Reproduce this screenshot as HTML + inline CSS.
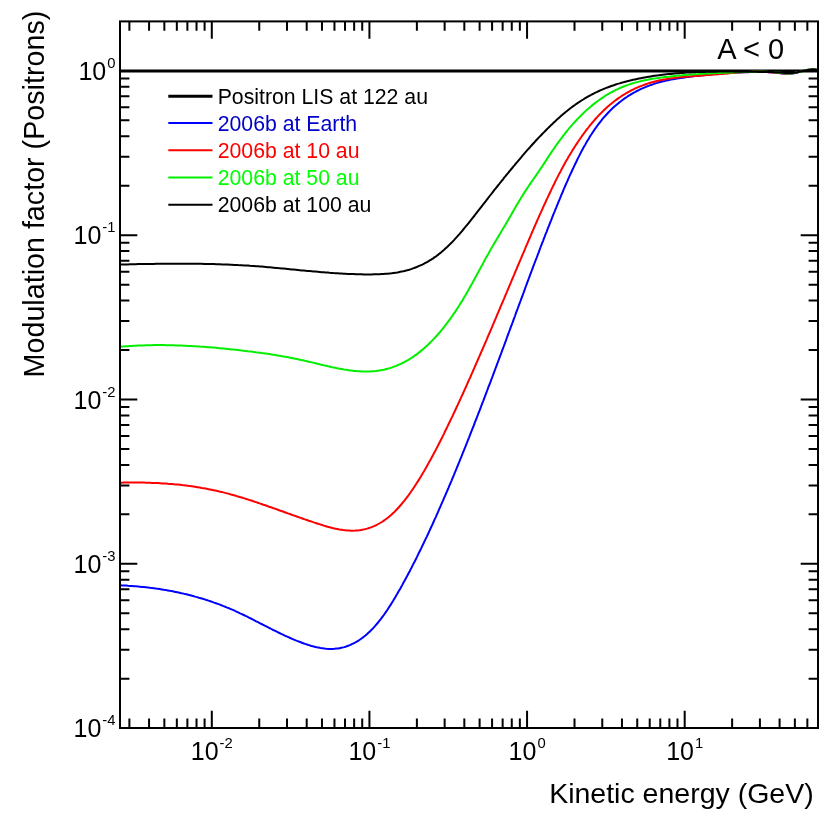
<!DOCTYPE html>
<html><head><meta charset="utf-8"><title>Modulation factor (Positrons)</title>
<style>
html,body{margin:0;padding:0;background:#fff;}
body{width:830px;height:830px;overflow:hidden;font-family:"Liberation Sans",sans-serif;}
svg{display:block;font-family:"Liberation Sans",sans-serif;will-change:transform;}
</style></head><body>
<svg width="830" height="830" viewBox="0 0 830 830">
<rect width="830" height="830" fill="#fff"/>
<g fill="none" stroke-linejoin="round" stroke-linecap="butt">
<path d="M120.0 70.9 H818.0" stroke="#000" stroke-width="3"/>
<path d="M120.0 585.3 L122.0 585.4 L124.0 585.5 L126.0 585.6 L128.0 585.8 L130.0 585.9 L132.0 586.0 L134.0 586.2 L136.0 586.3 L138.0 586.5 L140.0 586.7 L141.9 586.9 L143.9 587.1 L145.9 587.3 L147.9 587.5 L149.9 587.8 L151.9 588.0 L153.9 588.3 L155.8 588.6 L157.8 588.8 L159.8 589.1 L161.8 589.4 L163.8 589.8 L165.7 590.1 L167.7 590.4 L169.7 590.8 L171.6 591.1 L173.6 591.5 L175.6 591.9 L177.5 592.3 L179.5 592.7 L181.4 593.2 L183.4 593.6 L185.3 594.1 L187.3 594.5 L189.2 595.0 L191.2 595.5 L193.1 596.0 L195.0 596.6 L197.0 597.1 L198.9 597.7 L200.8 598.2 L202.7 598.8 L204.6 599.4 L206.5 600.0 L208.5 600.6 L210.4 601.2 L212.2 601.9 L214.1 602.6 L216.0 603.2 L217.9 603.9 L219.8 604.6 L221.6 605.3 L223.5 606.1 L225.4 606.8 L227.2 607.6 L229.1 608.3 L230.9 609.1 L232.8 609.9 L234.6 610.7 L236.4 611.6 L238.2 612.4 L240.0 613.3 L241.9 614.1 L243.7 615.0 L245.5 615.9 L247.3 616.7 L249.0 617.6 L250.8 618.5 L252.6 619.4 L254.4 620.3 L256.2 621.3 L258.0 622.2 L259.7 623.1 L261.5 624.0 L263.3 624.9 L265.1 625.8 L266.9 626.7 L268.6 627.6 L270.4 628.5 L272.2 629.5 L274.0 630.3 L275.8 631.2 L277.6 632.1 L279.4 633.0 L281.2 633.9 L283.0 634.7 L284.8 635.6 L286.6 636.4 L288.4 637.2 L290.2 638.0 L292.1 638.8 L293.9 639.6 L295.8 640.4 L297.6 641.1 L299.5 641.8 L301.3 642.5 L303.2 643.2 L305.1 643.9 L307.0 644.5 L308.9 645.1 L310.8 645.7 L312.7 646.2 L314.7 646.7 L316.6 647.2 L318.5 647.6 L320.5 648.0 L322.5 648.3 L324.5 648.6 L326.4 648.8 L328.4 648.9 L330.4 648.9 L332.4 648.9 L334.4 648.8 L336.4 648.6 L338.4 648.4 L340.4 648.0 L342.3 647.6 L344.3 647.1 L346.2 646.5 L348.1 645.8 L350.0 645.1 L351.8 644.2 L353.6 643.3 L355.4 642.4 L357.2 641.4 L358.9 640.3 L360.5 639.2 L362.2 638.0 L363.8 636.7 L365.4 635.5 L366.9 634.2 L368.4 632.8 L369.9 631.4 L371.3 630.0 L372.7 628.6 L374.1 627.1 L375.4 625.6 L376.8 624.0 L378.1 622.5 L379.3 620.9 L380.6 619.3 L381.8 617.7 L383.0 616.1 L384.2 614.5 L385.3 612.8 L386.5 611.1 L387.6 609.5 L388.7 607.8 L389.8 606.1 L390.9 604.4 L391.9 602.7 L393.0 601.0 L394.0 599.3 L395.1 597.6 L396.1 595.8 L397.1 594.1 L398.1 592.3 L399.1 590.6 L400.1 588.9 L401.1 587.1 L402.1 585.4 L403.0 583.6 L404.0 581.8 L405.0 580.1 L405.9 578.3 L406.9 576.5 L407.8 574.8 L408.7 573.0 L409.7 571.2 L410.6 569.4 L411.5 567.7 L412.4 565.9 L413.3 564.1 L414.3 562.3 L415.2 560.5 L416.1 558.7 L417.0 556.9 L417.8 555.1 L418.7 553.3 L419.6 551.5 L420.5 549.7 L421.4 547.9 L422.2 546.1 L423.1 544.3 L424.0 542.5 L424.8 540.7 L425.7 538.9 L426.6 537.1 L427.4 535.3 L428.3 533.5 L429.1 531.7 L429.9 529.8 L430.8 528.0 L431.6 526.2 L432.5 524.4 L433.3 522.5 L434.1 520.7 L434.9 518.9 L435.8 517.1 L436.6 515.2 L437.4 513.4 L438.2 511.6 L439.0 509.7 L439.8 507.9 L440.6 506.1 L441.4 504.2 L442.2 502.4 L443.0 500.6 L443.8 498.7 L444.6 496.9 L445.4 495.1 L446.2 493.2 L447.0 491.4 L447.8 489.5 L448.6 487.7 L449.3 485.8 L450.1 484.0 L450.9 482.1 L451.7 480.3 L452.4 478.5 L453.2 476.6 L454.0 474.8 L454.7 472.9 L455.5 471.1 L456.3 469.2 L457.0 467.4 L457.8 465.5 L458.5 463.6 L459.3 461.8 L460.0 459.9 L460.8 458.1 L461.6 456.2 L462.3 454.4 L463.0 452.5 L463.8 450.7 L464.5 448.8 L465.3 446.9 L466.0 445.1 L466.8 443.2 L467.5 441.4 L468.2 439.5 L469.0 437.6 L469.7 435.8 L470.4 433.9 L471.2 432.0 L471.9 430.2 L472.6 428.3 L473.4 426.5 L474.1 424.6 L474.8 422.7 L475.5 420.9 L476.3 419.0 L477.0 417.1 L477.7 415.3 L478.4 413.4 L479.2 411.5 L479.9 409.7 L480.6 407.8 L481.3 405.9 L482.0 404.1 L482.7 402.2 L483.5 400.3 L484.2 398.4 L484.9 396.6 L485.6 394.7 L486.3 392.8 L487.0 391.0 L487.7 389.1 L488.4 387.2 L489.1 385.4 L489.9 383.5 L490.6 381.6 L491.3 379.7 L492.0 377.9 L492.7 376.0 L493.4 374.1 L494.1 372.2 L494.8 370.4 L495.5 368.5 L496.2 366.6 L496.9 364.7 L497.6 362.9 L498.3 361.0 L499.0 359.1 L499.7 357.2 L500.4 355.4 L501.1 353.5 L501.8 351.6 L502.5 349.7 L503.2 347.9 L503.9 346.0 L504.6 344.1 L505.3 342.2 L506.0 340.4 L506.6 338.5 L507.3 336.6 L508.0 334.7 L508.7 332.9 L509.4 331.0 L510.1 329.1 L510.8 327.2 L511.5 325.4 L512.2 323.5 L512.9 321.6 L513.6 319.7 L514.3 317.9 L515.0 316.0 L515.6 314.1 L516.3 312.2 L517.0 310.3 L517.7 308.5 L518.4 306.6 L519.1 304.7 L519.8 302.8 L520.5 301.0 L521.2 299.1 L521.9 297.2 L522.6 295.3 L523.3 293.5 L524.0 291.6 L524.7 289.7 L525.3 287.8 L526.0 286.0 L526.7 284.1 L527.4 282.2 L528.1 280.3 L528.8 278.5 L529.5 276.6 L530.2 274.7 L530.9 272.8 L531.6 271.0 L532.3 269.1 L533.0 267.2 L533.7 265.4 L534.4 263.5 L535.1 261.6 L535.8 259.8 L536.6 257.9 L537.3 256.0 L538.0 254.1 L538.7 252.3 L539.4 250.4 L540.1 248.5 L540.8 246.7 L541.5 244.8 L542.2 242.9 L543.0 241.1 L543.7 239.2 L544.4 237.4 L545.1 235.5 L545.8 233.6 L546.6 231.8 L547.3 229.9 L548.0 228.0 L548.8 226.2 L549.5 224.3 L550.2 222.5 L551.0 220.6 L551.7 218.8 L552.4 216.9 L553.2 215.0 L553.9 213.2 L554.7 211.3 L555.4 209.5 L556.2 207.6 L556.9 205.8 L557.7 203.9 L558.4 202.1 L559.2 200.3 L560.0 198.4 L560.7 196.6 L561.5 194.7 L562.3 192.9 L563.1 191.0 L563.8 189.2 L564.6 187.4 L565.4 185.5 L566.2 183.7 L567.0 181.9 L567.8 180.1 L568.6 178.2 L569.4 176.4 L570.2 174.6 L571.1 172.8 L571.9 171.0 L572.7 169.2 L573.6 167.4 L574.4 165.6 L575.3 163.8 L576.2 162.0 L577.0 160.2 L577.9 158.4 L578.8 156.6 L579.7 154.9 L580.6 153.1 L581.5 151.3 L582.5 149.6 L583.4 147.8 L584.4 146.1 L585.4 144.4 L586.3 142.6 L587.3 140.9 L588.4 139.2 L589.4 137.5 L590.4 135.8 L591.5 134.2 L592.6 132.5 L593.7 130.9 L594.8 129.2 L596.0 127.6 L597.1 126.0 L598.3 124.4 L599.5 122.8 L600.7 121.3 L602.0 119.7 L603.2 118.2 L604.5 116.7 L605.9 115.2 L607.2 113.8 L608.6 112.3 L609.9 110.9 L611.3 109.5 L612.8 108.1 L614.2 106.8 L615.7 105.5 L617.2 104.2 L618.8 102.9 L620.3 101.7 L621.9 100.5 L623.5 99.3 L625.1 98.1 L626.8 97.0 L628.4 95.9 L630.1 94.9 L631.8 93.8 L633.5 92.8 L635.3 91.9 L637.0 91.0 L638.8 90.1 L640.6 89.2 L642.4 88.4 L644.2 87.6 L646.1 86.8 L647.9 86.1 L649.8 85.4 L651.7 84.7 L653.5 84.1 L655.4 83.4 L657.4 82.9 L659.3 82.3 L661.2 81.8 L663.1 81.3 L665.1 80.9 L667.0 80.4 L669.0 80.0 L671.0 79.6 L672.9 79.3 L674.9 78.9 L676.9 78.6 L678.8 78.3 L680.8 78.0 L682.8 77.7 L684.8 77.4 L686.7 77.1 L688.7 76.9 L690.7 76.6 L692.7 76.4 L694.7 76.1 L696.7 75.9 L698.7 75.7 L700.6 75.5 L702.6 75.2 L704.6 75.0 L706.6 74.8 L708.6 74.6 L710.6 74.4 L712.6 74.3 L714.6 74.1 L716.6 73.9 L718.6 73.7 L720.5 73.6 L722.5 73.4 L724.5 73.3 L726.5 73.2 L728.5 73.0 L730.5 72.9 L732.5 72.8 L734.5 72.7 L736.5 72.6 L738.5 72.5 L740.5 72.4 L742.5 72.3 L744.5 72.3 L746.5 72.2 L748.5 72.2 L750.5 72.1 L752.5 72.1 L754.5 72.1 L756.5 72.1 L758.5 72.1 L760.5 72.1 L762.5 72.1 L764.5 72.1 L766.5 72.1 L768.5 72.2 L770.5 72.3 L772.5 72.4 L774.5 72.5 L776.5 72.7 L778.5 72.9 L780.5 73.2 L782.4 73.5 L784.4 73.7 L786.4 73.9 L788.4 73.9 L790.4 73.8 L792.4 73.6 L794.4 73.2 L796.3 72.8 L798.3 72.3 L800.2 71.8 L802.1 71.2 L804.1 70.7 L806.0 70.2 L807.9 69.8 L809.9 69.4 L811.9 69.3 L813.9 69.3 L815.9 69.6 L817.8 70.2 L818.0 70.2" stroke="#0000ff" stroke-width="2"/>
<path d="M120.0 482.7 L122.0 482.7 L124.0 482.6 L126.0 482.6 L128.0 482.6 L130.0 482.6 L132.0 482.5 L134.0 482.5 L136.0 482.5 L138.0 482.6 L140.0 482.6 L142.0 482.6 L144.0 482.6 L146.0 482.7 L148.0 482.7 L150.0 482.8 L152.0 482.9 L154.0 482.9 L156.0 483.0 L158.0 483.1 L160.0 483.2 L162.0 483.4 L164.0 483.5 L166.0 483.6 L168.0 483.8 L170.0 483.9 L172.0 484.1 L174.0 484.3 L175.9 484.4 L177.9 484.6 L179.9 484.8 L181.9 485.1 L183.9 485.3 L185.9 485.5 L187.9 485.8 L189.9 486.0 L191.8 486.3 L193.8 486.6 L195.8 486.9 L197.8 487.2 L199.7 487.5 L201.7 487.9 L203.7 488.2 L205.7 488.6 L207.6 489.0 L209.6 489.4 L211.5 489.8 L213.5 490.2 L215.5 490.6 L217.4 491.0 L219.4 491.5 L221.3 491.9 L223.3 492.4 L225.2 492.9 L227.1 493.4 L229.1 493.9 L231.0 494.5 L232.9 495.0 L234.9 495.5 L236.8 496.1 L238.7 496.7 L240.6 497.2 L242.5 497.8 L244.4 498.4 L246.3 499.0 L248.3 499.6 L250.2 500.2 L252.1 500.8 L254.0 501.5 L255.9 502.1 L257.8 502.7 L259.7 503.4 L261.5 504.0 L263.4 504.7 L265.3 505.3 L267.2 506.0 L269.1 506.7 L271.0 507.3 L272.9 508.0 L274.8 508.6 L276.7 509.3 L278.5 510.0 L280.4 510.7 L282.3 511.3 L284.2 512.0 L286.1 512.7 L288.0 513.4 L289.8 514.0 L291.7 514.7 L293.6 515.4 L295.5 516.0 L297.4 516.7 L299.3 517.4 L301.1 518.0 L303.0 518.7 L304.9 519.4 L306.8 520.0 L308.7 520.7 L310.6 521.3 L312.5 521.9 L314.4 522.6 L316.3 523.2 L318.2 523.8 L320.1 524.4 L322.0 525.0 L323.9 525.6 L325.8 526.2 L327.7 526.8 L329.7 527.3 L331.6 527.8 L333.5 528.3 L335.5 528.7 L337.4 529.1 L339.4 529.5 L341.4 529.8 L343.3 530.1 L345.3 530.3 L347.3 530.5 L349.3 530.6 L351.3 530.7 L353.3 530.7 L355.3 530.6 L357.3 530.4 L359.3 530.2 L361.3 529.9 L363.2 529.6 L365.2 529.1 L367.1 528.6 L369.1 528.0 L371.0 527.4 L372.8 526.6 L374.7 525.8 L376.5 525.0 L378.3 524.0 L380.1 523.0 L381.8 522.0 L383.5 520.9 L385.1 519.7 L386.8 518.5 L388.4 517.3 L389.9 516.0 L391.4 514.7 L392.9 513.3 L394.4 511.9 L395.8 510.5 L397.2 509.0 L398.6 507.5 L399.9 506.0 L401.2 504.5 L402.5 502.9 L403.8 501.4 L405.0 499.8 L406.3 498.2 L407.5 496.6 L408.7 495.0 L409.9 493.3 L411.0 491.7 L412.2 490.0 L413.3 488.4 L414.4 486.7 L415.5 485.0 L416.6 483.3 L417.7 481.6 L418.8 479.9 L419.8 478.2 L420.9 476.5 L421.9 474.8 L422.9 473.0 L424.0 471.3 L425.0 469.6 L426.0 467.8 L427.0 466.1 L427.9 464.3 L428.9 462.6 L429.9 460.8 L430.9 459.1 L431.8 457.3 L432.8 455.5 L433.7 453.8 L434.6 452.0 L435.6 450.2 L436.5 448.4 L437.4 446.7 L438.3 444.9 L439.3 443.1 L440.2 441.3 L441.1 439.5 L442.0 437.7 L442.9 435.9 L443.8 434.1 L444.6 432.3 L445.5 430.5 L446.4 428.7 L447.3 426.9 L448.1 425.1 L449.0 423.3 L449.9 421.5 L450.7 419.7 L451.6 417.9 L452.5 416.1 L453.3 414.3 L454.2 412.5 L455.0 410.7 L455.9 408.8 L456.7 407.0 L457.6 405.2 L458.4 403.4 L459.2 401.6 L460.1 399.8 L460.9 397.9 L461.7 396.1 L462.6 394.3 L463.4 392.5 L464.2 390.6 L465.1 388.8 L465.9 387.0 L466.7 385.2 L467.5 383.3 L468.3 381.5 L469.1 379.7 L470.0 377.9 L470.8 376.0 L471.6 374.2 L472.4 372.4 L473.2 370.5 L474.0 368.7 L474.8 366.9 L475.6 365.0 L476.4 363.2 L477.2 361.4 L478.0 359.5 L478.8 357.7 L479.6 355.9 L480.4 354.0 L481.2 352.2 L482.0 350.4 L482.8 348.5 L483.6 346.7 L484.4 344.8 L485.2 343.0 L486.0 341.2 L486.8 339.3 L487.5 337.5 L488.3 335.7 L489.1 333.8 L489.9 332.0 L490.7 330.1 L491.5 328.3 L492.3 326.4 L493.0 324.6 L493.8 322.8 L494.6 320.9 L495.4 319.1 L496.2 317.2 L496.9 315.4 L497.7 313.6 L498.5 311.7 L499.3 309.9 L500.1 308.0 L500.8 306.2 L501.6 304.3 L502.4 302.5 L503.2 300.7 L504.0 298.8 L504.7 297.0 L505.5 295.1 L506.3 293.3 L507.1 291.4 L507.8 289.6 L508.6 287.8 L509.4 285.9 L510.2 284.1 L511.0 282.2 L511.7 280.4 L512.5 278.5 L513.3 276.7 L514.1 274.9 L514.8 273.0 L515.6 271.2 L516.4 269.3 L517.2 267.5 L517.9 265.6 L518.7 263.8 L519.5 262.0 L520.3 260.1 L521.1 258.3 L521.8 256.4 L522.6 254.6 L523.4 252.8 L524.2 250.9 L525.0 249.1 L525.7 247.2 L526.5 245.4 L527.3 243.6 L528.1 241.7 L528.9 239.9 L529.7 238.0 L530.5 236.2 L531.2 234.4 L532.0 232.5 L532.8 230.7 L533.6 228.9 L534.4 227.0 L535.2 225.2 L536.0 223.4 L536.8 221.5 L537.6 219.7 L538.4 217.9 L539.2 216.1 L540.0 214.2 L540.9 212.4 L541.7 210.6 L542.5 208.8 L543.3 206.9 L544.1 205.1 L545.0 203.3 L545.8 201.5 L546.6 199.7 L547.5 197.9 L548.3 196.1 L549.2 194.3 L550.0 192.5 L550.9 190.7 L551.7 188.9 L552.6 187.1 L553.5 185.3 L554.4 183.5 L555.2 181.7 L556.1 179.9 L557.0 178.1 L557.9 176.4 L558.8 174.6 L559.8 172.8 L560.7 171.1 L561.6 169.3 L562.6 167.6 L563.5 165.8 L564.5 164.1 L565.4 162.3 L566.4 160.6 L567.4 158.9 L568.4 157.1 L569.4 155.4 L570.4 153.7 L571.5 152.0 L572.5 150.3 L573.6 148.6 L574.6 147.0 L575.7 145.3 L576.8 143.6 L577.9 142.0 L579.0 140.3 L580.1 138.7 L581.3 137.0 L582.4 135.4 L583.6 133.8 L584.8 132.2 L585.9 130.6 L587.2 129.0 L588.4 127.5 L589.6 125.9 L590.9 124.4 L592.1 122.8 L593.4 121.3 L594.7 119.8 L596.1 118.3 L597.4 116.9 L598.7 115.4 L600.1 114.0 L601.5 112.6 L602.9 111.2 L604.4 109.8 L605.8 108.5 L607.3 107.1 L608.8 105.8 L610.3 104.5 L611.8 103.2 L613.4 102.0 L614.9 100.8 L616.5 99.6 L618.1 98.4 L619.8 97.3 L621.4 96.2 L623.1 95.1 L624.8 94.1 L626.5 93.0 L628.2 92.1 L630.0 91.1 L631.7 90.2 L633.5 89.3 L635.3 88.4 L637.1 87.6 L639.0 86.8 L640.8 86.1 L642.7 85.4 L644.5 84.7 L646.4 84.0 L648.3 83.4 L650.2 82.8 L652.1 82.2 L654.1 81.7 L656.0 81.2 L657.9 80.8 L659.9 80.3 L661.8 79.9 L663.8 79.5 L665.8 79.2 L667.7 78.8 L669.7 78.5 L671.7 78.2 L673.7 78.0 L675.6 77.7 L677.6 77.5 L679.6 77.3 L681.6 77.1 L683.6 76.9 L685.6 76.7 L687.6 76.6 L689.6 76.4 L691.6 76.3 L693.6 76.1 L695.6 76.0 L697.6 75.8 L699.5 75.7 L701.5 75.6 L703.5 75.4 L705.5 75.3 L707.5 75.1 L709.5 75.0 L711.5 74.8 L713.5 74.6 L715.5 74.5 L717.5 74.3 L719.5 74.1 L721.5 73.9 L723.5 73.7 L725.5 73.5 L727.5 73.4 L729.4 73.2 L731.4 73.0 L733.4 72.9 L735.4 72.7 L737.4 72.5 L739.4 72.4 L741.4 72.3 L743.4 72.2 L745.4 72.0 L747.4 72.0 L749.4 71.9 L751.4 71.8 L753.4 71.8 L755.4 71.8 L757.4 71.8 L759.4 71.8 L761.4 71.8 L763.4 71.9 L765.4 72.0 L767.4 72.1 L769.4 72.2 L771.4 72.4 L773.4 72.5 L775.4 72.7 L777.4 72.9 L779.4 73.1 L781.3 73.3 L783.3 73.5 L785.3 73.6 L787.3 73.7 L789.3 73.6 L791.3 73.4 L793.3 73.1 L795.3 72.8 L797.2 72.4 L799.2 71.9 L801.1 71.4 L803.1 71.0 L805.0 70.5 L807.0 70.1 L808.9 69.7 L810.9 69.5 L812.9 69.4 L814.9 69.5 L816.9 69.8 L818.0 70.2" stroke="#ff0000" stroke-width="2"/>
<path d="M120.0 346.8 L122.0 346.6 L124.0 346.5 L126.0 346.3 L128.0 346.2 L130.0 346.0 L132.0 345.9 L134.0 345.8 L136.0 345.7 L138.0 345.6 L140.0 345.5 L142.0 345.4 L143.9 345.4 L145.9 345.3 L147.9 345.3 L149.9 345.2 L151.9 345.2 L153.9 345.1 L155.9 345.1 L157.9 345.1 L159.9 345.1 L161.9 345.1 L163.9 345.1 L165.9 345.2 L167.9 345.2 L169.9 345.2 L171.9 345.3 L173.9 345.3 L175.9 345.4 L177.9 345.4 L179.9 345.5 L181.9 345.6 L183.9 345.7 L185.9 345.8 L187.9 345.9 L189.9 346.0 L191.9 346.1 L193.9 346.2 L195.9 346.3 L197.9 346.4 L199.9 346.6 L201.9 346.7 L203.9 346.8 L205.9 347.0 L207.9 347.2 L209.9 347.3 L211.9 347.5 L213.9 347.6 L215.9 347.8 L217.9 348.0 L219.9 348.2 L221.8 348.4 L223.8 348.6 L225.8 348.8 L227.8 349.0 L229.8 349.2 L231.8 349.4 L233.8 349.6 L235.8 349.8 L237.8 350.0 L239.7 350.2 L241.7 350.4 L243.7 350.7 L245.7 350.9 L247.7 351.2 L249.7 351.4 L251.7 351.6 L253.6 351.9 L255.6 352.2 L257.6 352.4 L259.6 352.7 L261.6 353.0 L263.6 353.2 L265.5 353.5 L267.5 353.8 L269.5 354.1 L271.5 354.4 L273.4 354.7 L275.4 355.1 L277.4 355.4 L279.4 355.7 L281.3 356.1 L283.3 356.4 L285.3 356.8 L287.2 357.1 L289.2 357.5 L291.2 357.9 L293.1 358.3 L295.1 358.7 L297.1 359.1 L299.0 359.5 L301.0 359.9 L302.9 360.3 L304.9 360.8 L306.8 361.2 L308.8 361.7 L310.7 362.1 L312.7 362.6 L314.6 363.0 L316.6 363.5 L318.5 364.0 L320.5 364.5 L322.4 364.9 L324.3 365.4 L326.3 365.8 L328.2 366.3 L330.2 366.7 L332.1 367.2 L334.1 367.6 L336.0 368.0 L338.0 368.4 L340.0 368.8 L341.9 369.1 L343.9 369.5 L345.9 369.8 L347.9 370.1 L349.8 370.4 L351.8 370.6 L353.8 370.9 L355.8 371.0 L357.8 371.2 L359.8 371.3 L361.8 371.4 L363.8 371.5 L365.8 371.5 L367.8 371.5 L369.8 371.4 L371.8 371.3 L373.8 371.2 L375.8 371.0 L377.7 370.7 L379.7 370.4 L381.7 370.1 L383.7 369.7 L385.6 369.2 L387.6 368.7 L389.5 368.2 L391.4 367.6 L393.3 366.9 L395.2 366.3 L397.1 365.5 L398.9 364.7 L400.7 363.9 L402.6 363.0 L404.3 362.1 L406.1 361.1 L407.9 360.1 L409.6 359.1 L411.3 358.0 L413.0 356.9 L414.6 355.7 L416.3 354.6 L417.9 353.4 L419.5 352.1 L421.0 350.9 L422.6 349.6 L424.1 348.3 L425.6 346.9 L427.1 345.6 L428.6 344.2 L430.0 342.8 L431.4 341.4 L432.8 339.9 L434.2 338.5 L435.6 337.0 L436.9 335.5 L438.3 334.0 L439.6 332.5 L440.9 330.9 L442.2 329.4 L443.4 327.8 L444.7 326.2 L445.9 324.6 L447.1 323.0 L448.3 321.4 L449.5 319.8 L450.7 318.2 L451.9 316.5 L453.0 314.9 L454.2 313.2 L455.3 311.6 L456.4 309.9 L457.5 308.2 L458.6 306.5 L459.7 304.8 L460.7 303.1 L461.8 301.4 L462.8 299.7 L463.8 297.9 L464.9 296.2 L465.9 294.5 L466.9 292.7 L467.9 291.0 L468.9 289.2 L469.8 287.5 L470.8 285.7 L471.8 284.0 L472.8 282.2 L473.7 280.5 L474.7 278.7 L475.6 277.0 L476.6 275.2 L477.5 273.4 L478.5 271.7 L479.4 269.9 L480.4 268.2 L481.3 266.4 L482.3 264.7 L483.3 262.9 L484.2 261.1 L485.2 259.4 L486.1 257.6 L487.1 255.9 L488.1 254.2 L489.1 252.4 L490.0 250.7 L491.0 249.0 L492.0 247.2 L493.0 245.5 L494.0 243.8 L495.0 242.1 L496.1 240.4 L497.1 238.6 L498.1 236.9 L499.1 235.2 L500.2 233.5 L501.2 231.8 L502.2 230.1 L503.2 228.3 L504.3 226.6 L505.3 224.9 L506.3 223.1 L507.3 221.4 L508.3 219.7 L509.3 217.9 L510.3 216.2 L511.3 214.5 L512.3 212.7 L513.3 211.0 L514.3 209.3 L515.3 207.6 L516.3 205.8 L517.3 204.1 L518.3 202.4 L519.3 200.7 L520.4 199.0 L521.4 197.3 L522.5 195.6 L523.5 193.9 L524.6 192.2 L525.7 190.6 L526.8 188.9 L527.9 187.2 L529.0 185.6 L530.1 183.9 L531.2 182.3 L532.4 180.7 L533.5 179.0 L534.7 177.4 L535.8 175.7 L536.9 174.1 L538.1 172.4 L539.2 170.8 L540.3 169.1 L541.5 167.4 L542.6 165.8 L543.7 164.1 L544.8 162.4 L545.9 160.7 L546.9 159.1 L548.0 157.4 L549.1 155.7 L550.2 154.1 L551.3 152.4 L552.4 150.7 L553.6 149.1 L554.7 147.5 L555.8 145.8 L557.0 144.2 L558.1 142.6 L559.3 141.0 L560.5 139.4 L561.7 137.8 L562.9 136.2 L564.1 134.6 L565.3 133.1 L566.6 131.5 L567.8 130.0 L569.1 128.4 L570.4 126.9 L571.7 125.4 L573.0 123.9 L574.3 122.5 L575.7 121.0 L577.1 119.5 L578.4 118.1 L579.8 116.7 L581.2 115.3 L582.6 113.9 L584.1 112.5 L585.5 111.1 L587.0 109.8 L588.5 108.5 L590.0 107.2 L591.5 105.9 L593.1 104.6 L594.6 103.4 L596.2 102.2 L597.8 101.0 L599.4 99.8 L601.0 98.7 L602.7 97.6 L604.3 96.5 L606.0 95.4 L607.7 94.4 L609.4 93.4 L611.2 92.4 L612.9 91.5 L614.7 90.5 L616.5 89.7 L618.3 88.8 L620.1 88.0 L621.9 87.2 L623.8 86.5 L625.6 85.8 L627.5 85.1 L629.4 84.4 L631.3 83.8 L633.2 83.2 L635.1 82.6 L637.0 82.1 L639.0 81.6 L640.9 81.1 L642.8 80.7 L644.8 80.3 L646.7 79.9 L648.7 79.5 L650.7 79.1 L652.6 78.8 L654.6 78.5 L656.6 78.2 L658.6 77.9 L660.6 77.6 L662.5 77.4 L664.5 77.1 L666.5 76.9 L668.5 76.7 L670.5 76.4 L672.5 76.2 L674.5 76.0 L676.4 75.8 L678.4 75.6 L680.4 75.4 L682.4 75.3 L684.4 75.1 L686.4 74.9 L688.4 74.8 L690.4 74.6 L692.4 74.5 L694.4 74.3 L696.4 74.2 L698.4 74.1 L700.4 73.9 L702.4 73.8 L704.4 73.7 L706.4 73.6 L708.4 73.5 L710.4 73.4 L712.3 73.3 L714.3 73.2 L716.3 73.1 L718.3 73.0 L720.3 72.9 L722.3 72.8 L724.3 72.8 L726.3 72.7 L728.3 72.6 L730.3 72.5 L732.3 72.5 L734.3 72.4 L736.3 72.3 L738.3 72.3 L740.3 72.2 L742.3 72.1 L744.3 72.1 L746.3 72.0 L748.3 72.0 L750.3 71.9 L752.3 71.8 L754.3 71.8 L756.3 71.8 L758.3 71.7 L760.3 71.7 L762.3 71.7 L764.3 71.8 L766.3 71.8 L768.3 71.9 L770.3 72.0 L772.3 72.1 L774.3 72.2 L776.3 72.4 L778.3 72.6 L780.3 72.8 L782.3 73.1 L784.3 73.3 L786.2 73.5 L788.2 73.6 L790.2 73.5 L792.2 73.3 L794.2 73.0 L796.2 72.6 L798.1 72.1 L800.1 71.7 L802.0 71.2 L804.0 70.7 L805.9 70.3 L807.9 69.9 L809.8 69.6 L811.8 69.5 L813.8 69.5 L815.8 69.8 L817.8 70.2 L818.0 70.2" stroke="#04ee00" stroke-width="2"/>
<path d="M120.0 264.5 L122.0 264.5 L124.0 264.4 L126.0 264.4 L128.0 264.4 L130.0 264.3 L132.0 264.3 L134.0 264.2 L136.0 264.2 L138.0 264.1 L140.0 264.1 L142.0 264.1 L144.0 264.0 L146.0 264.0 L148.0 264.0 L150.0 263.9 L152.0 263.9 L154.0 263.9 L156.0 263.8 L158.0 263.8 L160.0 263.8 L162.0 263.8 L164.0 263.8 L166.0 263.7 L168.0 263.7 L170.0 263.7 L172.0 263.7 L174.0 263.7 L176.0 263.7 L178.0 263.7 L180.0 263.7 L182.0 263.7 L184.0 263.7 L186.0 263.7 L188.0 263.7 L190.0 263.7 L192.0 263.7 L194.0 263.7 L196.0 263.8 L198.0 263.8 L200.0 263.8 L202.0 263.8 L204.0 263.9 L206.0 263.9 L208.0 264.0 L210.0 264.0 L212.0 264.1 L214.0 264.1 L216.0 264.2 L218.0 264.2 L220.0 264.3 L222.0 264.4 L224.0 264.4 L226.0 264.5 L228.0 264.6 L230.0 264.7 L232.0 264.8 L234.0 264.9 L236.0 264.9 L238.0 265.1 L240.0 265.2 L242.0 265.3 L244.0 265.4 L246.0 265.5 L248.0 265.6 L250.0 265.8 L251.9 265.9 L253.9 266.0 L255.9 266.2 L257.9 266.3 L259.9 266.5 L261.9 266.6 L263.9 266.8 L265.9 267.0 L267.9 267.2 L269.9 267.3 L271.9 267.5 L273.9 267.7 L275.9 267.9 L277.9 268.1 L279.8 268.2 L281.8 268.4 L283.8 268.6 L285.8 268.8 L287.8 269.0 L289.8 269.2 L291.8 269.4 L293.8 269.6 L295.8 269.8 L297.8 270.0 L299.8 270.2 L301.7 270.4 L303.7 270.5 L305.7 270.7 L307.7 270.9 L309.7 271.1 L311.7 271.3 L313.7 271.5 L315.7 271.6 L317.7 271.8 L319.7 272.0 L321.7 272.2 L323.7 272.3 L325.7 272.5 L327.6 272.6 L329.6 272.8 L331.6 272.9 L333.6 273.1 L335.6 273.2 L337.6 273.3 L339.6 273.5 L341.6 273.6 L343.6 273.7 L345.6 273.8 L347.6 273.9 L349.6 274.0 L351.6 274.0 L353.6 274.1 L355.6 274.2 L357.6 274.2 L359.6 274.3 L361.6 274.3 L363.6 274.4 L365.6 274.4 L367.6 274.4 L369.6 274.4 L371.6 274.4 L373.6 274.3 L375.6 274.3 L377.6 274.3 L379.6 274.2 L381.6 274.1 L383.6 274.0 L385.6 273.8 L387.6 273.7 L389.6 273.5 L391.6 273.3 L393.5 273.0 L395.5 272.7 L397.5 272.4 L399.5 272.0 L401.4 271.6 L403.4 271.2 L405.3 270.7 L407.3 270.2 L409.2 269.7 L411.1 269.1 L413.0 268.4 L414.9 267.7 L416.8 267.0 L418.6 266.2 L420.5 265.4 L422.3 264.6 L424.1 263.7 L425.9 262.7 L427.6 261.8 L429.4 260.7 L431.1 259.7 L432.8 258.6 L434.4 257.4 L436.1 256.3 L437.7 255.1 L439.3 253.8 L440.9 252.6 L442.4 251.3 L443.9 250.0 L445.4 248.6 L446.9 247.2 L448.4 245.8 L449.8 244.4 L451.2 243.0 L452.6 241.6 L454.0 240.1 L455.3 238.6 L456.7 237.1 L458.0 235.6 L459.4 234.1 L460.7 232.6 L462.0 231.1 L463.3 229.5 L464.5 228.0 L465.8 226.4 L467.1 224.9 L468.4 223.3 L469.6 221.8 L470.9 220.2 L472.1 218.6 L473.3 217.1 L474.6 215.5 L475.8 213.9 L477.0 212.3 L478.3 210.7 L479.5 209.2 L480.7 207.6 L482.0 206.0 L483.2 204.4 L484.4 202.8 L485.6 201.3 L486.9 199.7 L488.1 198.1 L489.3 196.5 L490.5 195.0 L491.8 193.4 L493.0 191.8 L494.2 190.2 L495.5 188.7 L496.7 187.1 L498.0 185.5 L499.2 184.0 L500.5 182.4 L501.7 180.9 L503.0 179.3 L504.2 177.7 L505.5 176.2 L506.7 174.6 L508.0 173.1 L509.3 171.5 L510.5 170.0 L511.8 168.5 L513.1 166.9 L514.4 165.4 L515.6 163.9 L516.9 162.3 L518.2 160.8 L519.5 159.3 L520.8 157.8 L522.1 156.2 L523.4 154.7 L524.7 153.2 L526.0 151.7 L527.3 150.2 L528.6 148.7 L530.0 147.2 L531.3 145.7 L532.6 144.3 L534.0 142.8 L535.3 141.3 L536.7 139.8 L538.0 138.4 L539.4 136.9 L540.8 135.5 L542.2 134.0 L543.6 132.6 L545.0 131.2 L546.4 129.8 L547.8 128.4 L549.2 127.0 L550.6 125.6 L552.1 124.2 L553.5 122.8 L555.0 121.5 L556.4 120.1 L557.9 118.8 L559.4 117.4 L560.9 116.1 L562.4 114.8 L563.9 113.5 L565.4 112.3 L567.0 111.0 L568.5 109.8 L570.1 108.5 L571.7 107.3 L573.3 106.1 L574.9 105.0 L576.5 103.8 L578.2 102.7 L579.8 101.6 L581.5 100.5 L583.2 99.5 L584.9 98.4 L586.6 97.4 L588.3 96.4 L590.1 95.5 L591.8 94.5 L593.6 93.6 L595.4 92.7 L597.2 91.9 L599.0 91.0 L600.8 90.2 L602.7 89.4 L604.5 88.6 L606.3 87.9 L608.2 87.2 L610.1 86.5 L612.0 85.8 L613.8 85.2 L615.7 84.5 L617.6 83.9 L619.6 83.4 L621.5 82.8 L623.4 82.3 L625.3 81.7 L627.3 81.2 L629.2 80.7 L631.1 80.3 L633.1 79.8 L635.0 79.4 L637.0 79.0 L638.9 78.6 L640.9 78.2 L642.9 77.8 L644.8 77.4 L646.8 77.1 L648.8 76.7 L650.7 76.4 L652.7 76.1 L654.7 75.8 L656.7 75.5 L658.6 75.3 L660.6 75.0 L662.6 74.7 L664.6 74.5 L666.6 74.3 L668.6 74.1 L670.6 73.9 L672.6 73.7 L674.5 73.5 L676.5 73.3 L678.5 73.2 L680.5 73.0 L682.5 72.9 L684.5 72.7 L686.5 72.6 L688.5 72.5 L690.5 72.4 L692.5 72.3 L694.5 72.2 L696.5 72.1 L698.5 72.1 L700.5 72.0 L702.5 71.9 L704.5 71.9 L706.5 71.8 L708.5 71.8 L710.5 71.7 L712.5 71.7 L714.5 71.7 L716.5 71.7 L718.5 71.6 L720.5 71.6 L722.5 71.6 L724.5 71.6 L726.5 71.6 L728.5 71.6 L730.5 71.6 L732.5 71.6 L734.5 71.7 L736.5 71.7 L738.5 71.7 L740.5 71.7 L742.5 71.7 L744.5 71.7 L746.5 71.7 L748.5 71.8 L750.5 71.8 L752.5 71.8 L754.5 71.8 L756.5 71.8 L758.5 71.9 L760.5 71.9 L762.5 71.9 L764.5 71.9 L766.5 71.9 L768.5 72.0 L770.5 72.0 L772.5 72.1 L774.5 72.2 L776.5 72.3 L778.5 72.4 L780.5 72.6 L782.5 72.8 L784.5 73.0 L786.4 73.1 L788.4 73.1 L790.4 73.1 L792.4 72.9 L794.4 72.7 L796.4 72.4 L798.4 72.0 L800.3 71.6 L802.3 71.1 L804.2 70.7 L806.2 70.3 L808.2 70.0 L810.1 69.7 L812.1 69.6 L814.1 69.6 L816.1 69.8 L818.0 70.3" stroke="#000" stroke-width="2"/>
</g>
<rect x="120.0" y="21.4" width="698.0" height="706.6" fill="none" stroke="#000" stroke-width="2"/>
<path d="M129.38 728.0 v-9.4 M129.38 21.4 v9.4 M149.07 728.0 v-9.4 M149.07 21.4 v9.4 M164.35 728.0 v-9.4 M164.35 21.4 v9.4 M176.83 728.0 v-9.4 M176.83 21.4 v9.4 M187.38 728.0 v-9.4 M187.38 21.4 v9.4 M196.52 728.0 v-9.4 M196.52 21.4 v9.4 M204.59 728.0 v-9.4 M204.59 21.4 v9.4 M211.80 728.0 v-17.3 M211.80 21.4 v17.3 M259.25 728.0 v-9.4 M259.25 21.4 v9.4 M287.01 728.0 v-9.4 M287.01 21.4 v9.4 M306.70 728.0 v-9.4 M306.70 21.4 v9.4 M321.98 728.0 v-9.4 M321.98 21.4 v9.4 M334.46 728.0 v-9.4 M334.46 21.4 v9.4 M345.01 728.0 v-9.4 M345.01 21.4 v9.4 M354.15 728.0 v-9.4 M354.15 21.4 v9.4 M362.22 728.0 v-9.4 M362.22 21.4 v9.4 M369.43 728.0 v-17.3 M369.43 21.4 v17.3 M416.88 728.0 v-9.4 M416.88 21.4 v9.4 M444.64 728.0 v-9.4 M444.64 21.4 v9.4 M464.33 728.0 v-9.4 M464.33 21.4 v9.4 M479.61 728.0 v-9.4 M479.61 21.4 v9.4 M492.09 728.0 v-9.4 M492.09 21.4 v9.4 M502.64 728.0 v-9.4 M502.64 21.4 v9.4 M511.78 728.0 v-9.4 M511.78 21.4 v9.4 M519.85 728.0 v-9.4 M519.85 21.4 v9.4 M527.06 728.0 v-17.3 M527.06 21.4 v17.3 M574.51 728.0 v-9.4 M574.51 21.4 v9.4 M602.27 728.0 v-9.4 M602.27 21.4 v9.4 M621.96 728.0 v-9.4 M621.96 21.4 v9.4 M637.24 728.0 v-9.4 M637.24 21.4 v9.4 M649.72 728.0 v-9.4 M649.72 21.4 v9.4 M660.27 728.0 v-9.4 M660.27 21.4 v9.4 M669.41 728.0 v-9.4 M669.41 21.4 v9.4 M677.48 728.0 v-9.4 M677.48 21.4 v9.4 M684.69 728.0 v-17.3 M684.69 21.4 v17.3 M732.14 728.0 v-9.4 M732.14 21.4 v9.4 M759.90 728.0 v-9.4 M759.90 21.4 v9.4 M779.59 728.0 v-9.4 M779.59 21.4 v9.4 M794.87 728.0 v-9.4 M794.87 21.4 v9.4 M807.35 728.0 v-9.4 M807.35 21.4 v9.4 M120.0 728.10 h17.3 M818.0 728.10 h-17.3 M120.0 678.64 h9.4 M818.0 678.64 h-9.4 M120.0 649.71 h9.4 M818.0 649.71 h-9.4 M120.0 629.18 h9.4 M818.0 629.18 h-9.4 M120.0 613.26 h9.4 M818.0 613.26 h-9.4 M120.0 600.25 h9.4 M818.0 600.25 h-9.4 M120.0 589.25 h9.4 M818.0 589.25 h-9.4 M120.0 579.72 h9.4 M818.0 579.72 h-9.4 M120.0 571.32 h9.4 M818.0 571.32 h-9.4 M120.0 563.80 h17.3 M818.0 563.80 h-17.3 M120.0 514.34 h9.4 M818.0 514.34 h-9.4 M120.0 485.41 h9.4 M818.0 485.41 h-9.4 M120.0 464.88 h9.4 M818.0 464.88 h-9.4 M120.0 448.96 h9.4 M818.0 448.96 h-9.4 M120.0 435.95 h9.4 M818.0 435.95 h-9.4 M120.0 424.95 h9.4 M818.0 424.95 h-9.4 M120.0 415.42 h9.4 M818.0 415.42 h-9.4 M120.0 407.02 h9.4 M818.0 407.02 h-9.4 M120.0 399.50 h17.3 M818.0 399.50 h-17.3 M120.0 350.04 h9.4 M818.0 350.04 h-9.4 M120.0 321.11 h9.4 M818.0 321.11 h-9.4 M120.0 300.58 h9.4 M818.0 300.58 h-9.4 M120.0 284.66 h9.4 M818.0 284.66 h-9.4 M120.0 271.65 h9.4 M818.0 271.65 h-9.4 M120.0 260.65 h9.4 M818.0 260.65 h-9.4 M120.0 251.12 h9.4 M818.0 251.12 h-9.4 M120.0 242.72 h9.4 M818.0 242.72 h-9.4 M120.0 235.20 h17.3 M818.0 235.20 h-17.3 M120.0 185.74 h9.4 M818.0 185.74 h-9.4 M120.0 156.81 h9.4 M818.0 156.81 h-9.4 M120.0 136.28 h9.4 M818.0 136.28 h-9.4 M120.0 120.36 h9.4 M818.0 120.36 h-9.4 M120.0 107.35 h9.4 M818.0 107.35 h-9.4 M120.0 96.35 h9.4 M818.0 96.35 h-9.4 M120.0 86.82 h9.4 M818.0 86.82 h-9.4 M120.0 78.42 h9.4 M818.0 78.42 h-9.4 M120.0 70.90 h17.3 M818.0 70.90 h-17.3" stroke="#000" stroke-width="2" fill="none"/>
<g fill="#000">
<text x="211.8" y="760" font-size="25" text-anchor="middle">10<tspan font-size="14.8" dy="-12" dx="1">-2</tspan></text><text x="369.4" y="760" font-size="25" text-anchor="middle">10<tspan font-size="14.8" dy="-12" dx="1">-1</tspan></text><text x="527.1" y="760" font-size="25" text-anchor="middle">10<tspan font-size="14.8" dy="-12" dx="1">0</tspan></text><text x="684.7" y="760" font-size="25" text-anchor="middle">10<tspan font-size="14.8" dy="-12" dx="1">1</tspan></text>
<text x="115.5" y="737.3" font-size="25" text-anchor="end">10<tspan font-size="14.8" dy="-12" dx="1">-4</tspan></text><text x="115.5" y="573.0" font-size="25" text-anchor="end">10<tspan font-size="14.8" dy="-12" dx="1">-3</tspan></text><text x="115.5" y="408.7" font-size="25" text-anchor="end">10<tspan font-size="14.8" dy="-12" dx="1">-2</tspan></text><text x="115.5" y="244.4" font-size="25" text-anchor="end">10<tspan font-size="14.8" dy="-12" dx="1">-1</tspan></text><text x="115.5" y="80.1" font-size="25" text-anchor="end">10<tspan font-size="14.8" dy="-12" dx="1">0</tspan></text>
<text x="813.7" y="803.3" font-size="28.5" text-anchor="end">Kinetic energy (GeV)</text>
<text transform="translate(44,10.7) rotate(-90)" font-size="28.7" text-anchor="end">Modulation factor (Positrons)</text>
<text x="717.2" y="59.3" font-size="29">A &lt; 0</text>
</g>
<line x1="168.3" x2="212.5" y1="96.3" y2="96.3" stroke="#000" stroke-width="3"/><text x="217.7" y="104.0" font-size="21.25" fill="#000">Positron LIS at 122 au</text><line x1="168.3" x2="212.5" y1="123.1" y2="123.1" stroke="#0000ff" stroke-width="2"/><text x="217.7" y="130.8" font-size="21.25" fill="#0000c8">2006b at Earth</text><line x1="168.3" x2="212.5" y1="150.2" y2="150.2" stroke="#ff0000" stroke-width="2"/><text x="217.7" y="157.9" font-size="21.25" fill="#ff0000">2006b at 10 au</text><line x1="168.3" x2="212.5" y1="177.4" y2="177.4" stroke="#00f000" stroke-width="2"/><text x="217.7" y="185.1" font-size="21.25" fill="#00ff00">2006b at 50 au</text><line x1="168.3" x2="212.5" y1="204.7" y2="204.7" stroke="#000" stroke-width="2"/><text x="217.7" y="212.4" font-size="21.25" fill="#000">2006b at 100 au</text>
</svg>
</body></html>
